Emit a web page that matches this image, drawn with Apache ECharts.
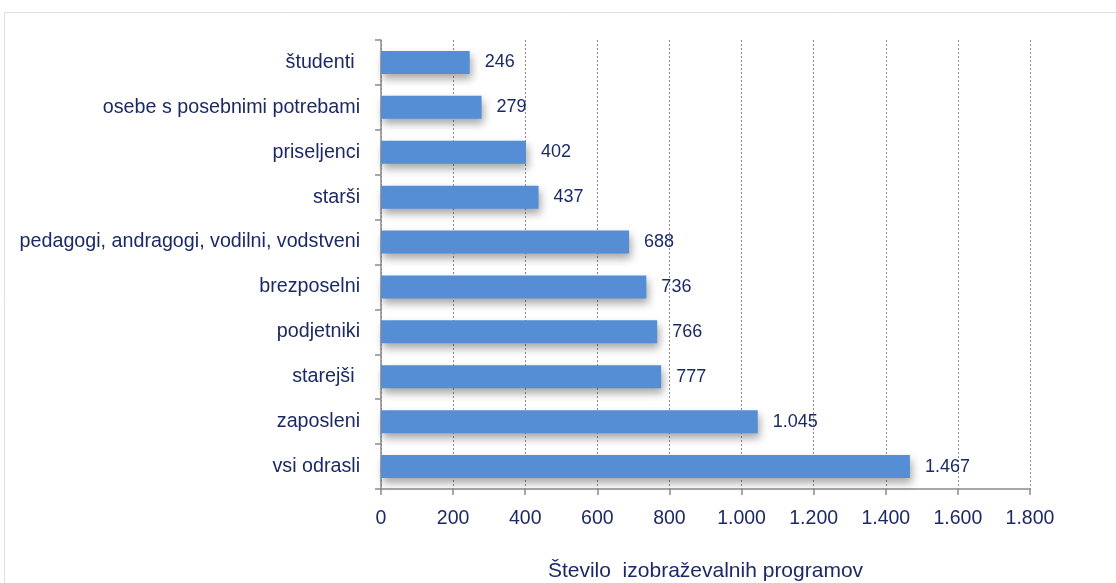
<!DOCTYPE html>
<html><head><meta charset="utf-8">
<script src="https://cdn.jsdelivr.net/npm/echarts@6/dist/echarts.min.js"></script>
<style>html,body{margin:0;padding:0;background:#fff}#c{width:1116px;height:583px}</style>
</head><body><div id="c"></div>
<script>
const categories = ['študenti ', 'osebe s posebnimi potrebami', 'priseljenci', 'starši', 'pedagogi, andragogi, vodilni, vodstveni', 'brezposelni', 'podjetniki', 'starejši ', 'zaposleni', 'vsi odrasli'];
const values = [246, 279, 402, 437, 688, 736, 766, 777, 1045, 1467];
const axisTitle = 'Število  izobraževalnih programov';

const FONT = '"Liberation Sans Narrow", "Arial Narrow", "Liberation Sans", sans-serif';
const TXT = '#1b2a66';
const fmt = v => String(v).replace(/\B(?=(\d{3})+(?!\d))/g, '.');

const chart = echarts.init(document.getElementById('c'), null, {renderer: 'canvas'});
chart.setOption({
  animation: false,
  backgroundColor: '#fff',
  graphic: [{
    type: 'rect', shape: {x: 4.5, y: 12.5, width: 1200, height: 700},
    style: {fill: 'none', stroke: '#dedede', lineWidth: 1}, silent: true, z: -1
  }],
  grid: {left: 381, right: 86, top: 40, bottom: 94, containLabel: false, outerBoundsMode: 'none'},
  xAxis: {
    type: 'value', min: 0, max: 1800, interval: 200,
    axisLine: {show: true, lineStyle: {color: '#8c8c8c', width: 1.5}},
    axisTick: {show: true, length: 6, lineStyle: {color: '#8c8c8c', width: 1.5}},
    splitLine: {show: true, lineStyle: {color: '#8c8c8c', type: [2, 2], width: 1}},
    axisLabel: {color: TXT, fontFamily: FONT, fontSize: 19.5, margin: 20, formatter: fmt},
    name: axisTitle, nameLocation: 'middle', nameGap: 72,
    nameTextStyle: {color: TXT, fontFamily: FONT, fontSize: 21}
  },
  yAxis: {
    type: 'category', data: categories, inverse: true,
    axisLine: {show: true, lineStyle: {color: '#8c8c8c', width: 1.5}},
    axisTick: {show: true, length: 6, lineStyle: {color: '#8c8c8c', width: 1.5}},
    splitLine: {show: false},
    axisLabel: {color: TXT, fontFamily: FONT, fontSize: 19.7, margin: 21}
  },
  series: [{
    type: 'bar', data: values, barWidth: 23,
    itemStyle: {color: '#558ed5', shadowColor: 'rgba(0,0,0,0.35)', shadowBlur: 9, shadowOffsetX: 2, shadowOffsetY: 5},
    label: {show: true, position: 'right', distance: 15, color: TXT, fontFamily: FONT, fontSize: 18, formatter: p => fmt(p.value)}
  }]
});
</script></body></html>
